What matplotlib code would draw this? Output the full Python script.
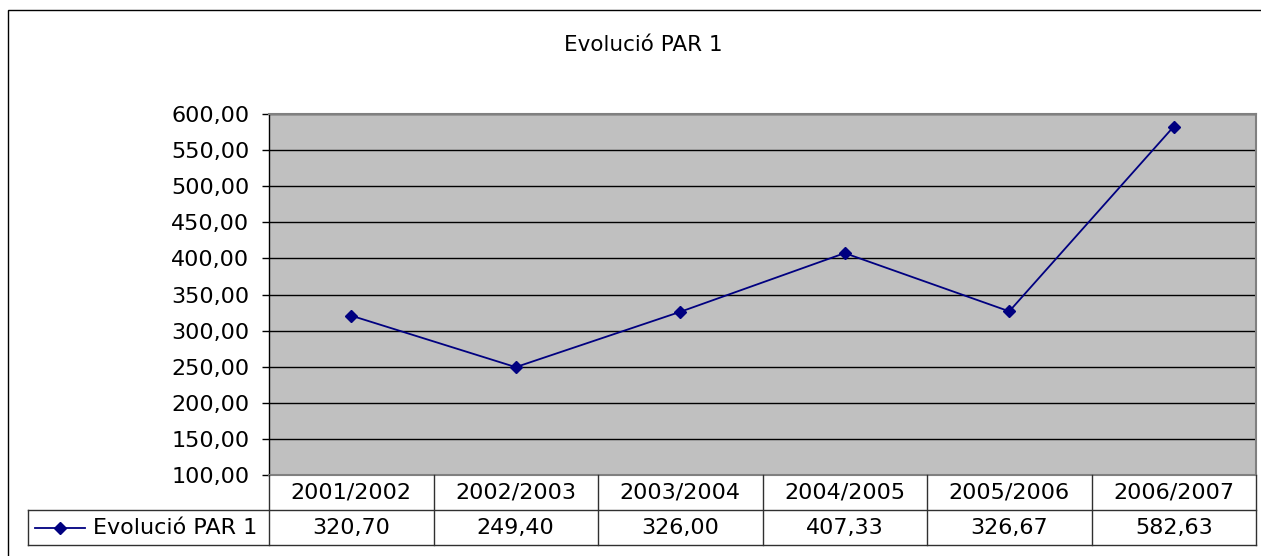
import matplotlib.pyplot as plt
from matplotlib.lines import Line2D
from matplotlib.patches import Rectangle

# dades
categories = ['2001/2002', '2002/2003', '2003/2004', '2004/2005', '2005/2006', '2006/2007']
values = [320.70, 249.40, 326.00, 407.33, 326.67, 582.63]
series_name = 'Evolució PAR 1'
title = 'Evolució PAR 1'

W, H = 1261, 556
navy = '#000080'


def fmt(v):
    return '{:.2f}'.format(v).replace('.', ',')


fig = plt.figure(figsize=(W / 100, H / 100), dpi=100)

# marc exterior
fig.patches.append(Rectangle((8 / W, -0.1), 1.2, 1 - 10 / H + 0.1, transform=fig.transFigure,
                             fill=False, edgecolor='black', linewidth=1))

fig.text(643 / W, 1 - 45 / H, title, ha='center', va='center', fontsize=15.5)

# area del grafic
x0, x1 = 269, 1256
y0, y1 = 114, 475
ax = fig.add_axes([x0 / W, 1 - y1 / H, (x1 - x0) / W, (y1 - y0) / H])
ax.set_facecolor('#c0c0c0')
xs = list(range(len(categories)))
ax.plot(xs, values, color=navy, linewidth=1.3, marker='D', markersize=6)
ax.set_xlim(-0.5, len(categories) - 0.5)
ax.set_ylim(100, 600)
ax.set_yticks(range(100, 601, 50))
ax.set_yticklabels([fmt(t) for t in range(100, 601, 50)], fontsize=16)
ax.yaxis.grid(True, color='black', linewidth=1)
ax.set_axisbelow(True)
ax.set_xticks([])
ax.tick_params(axis='y', length=5, width=1, pad=9, color='black')
for s in ax.spines.values():
    s.set_color('#808080')
    s.set_linewidth(1.5)
ax.spines['left'].set_color('black')
ax.spines['left'].set_linewidth(1)

# taula de dades
t1 = 545
axt = fig.add_axes([x0 / W, 1 - t1 / H, (x1 - x0) / W, (t1 - y1) / H])
axt.set_xlim(-0.5, len(categories) - 0.5)
axt.set_ylim(0, 2)
axt.axis('off')
unit = (x1 - x0) / len(categories)
xl = -0.5 - (x0 - 28) / unit
lc = '#303030'
for i in range(len(categories) + 1):
    axt.plot([i - 0.5, i - 0.5], [0, 2], color=lc, linewidth=1, clip_on=False)
axt.plot([xl, len(categories) - 0.5], [0, 0], color=lc, linewidth=1, clip_on=False)
axt.plot([xl, len(categories) - 0.5], [1, 1], color=lc, linewidth=1, clip_on=False)
axt.plot([xl, xl], [0, 1], color=lc, linewidth=1, clip_on=False)
for i, (c, v) in enumerate(zip(categories, values)):
    axt.text(i, 1.5, c, ha='center', va='center', fontsize=16)
    axt.text(i, 0.5, fmt(v), ha='center', va='center', fontsize=16)

# clau de llegenda
kx = xl + 7 / unit
axt.add_line(Line2D([kx, kx + 50 / unit], [0.5, 0.5], color=navy, linewidth=1.3, clip_on=False))
axt.add_line(Line2D([kx + 25 / unit], [0.5], color=navy, marker='D', markersize=6, clip_on=False))
axt.text(kx + 58 / unit, 0.5, series_name, ha='left', va='center', fontsize=16)

fig.savefig('out.png', dpi=100)
